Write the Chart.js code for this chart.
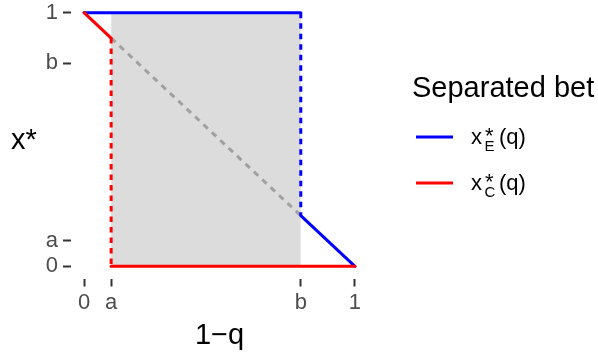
<!DOCTYPE html>
<html lang="en">
<head>
  <meta charset="UTF-8">
  <title>Separated bet</title>
  <script src="https://cdn.jsdelivr.net/npm/chart.js"></script>
  <style>
    html, body { margin:0; padding:0; background:#fff; }
    #wrap { position:relative; width:598px; height:356px; }
  </style>
</head>
<body>
<div id="wrap"><canvas id="chart" width="598" height="356"></canvas></div>
<script>
// ticks (a = 0.1, b = 0.8)
const tickValues = [0, 0.1, 0.8, 1];
const tickLabels = ['0', 'a', 'b', '1'];

// x*_E(q): flat at 1 up to b, drop at b, then down to 0 at 1
const xE_x = [0, 0.8, 0.8, 1];
const xE_y = [1, 1, 0.2, 0];
// x*_C(q): down to 1-a at a, drop at a, then flat at 0
const xC_x = [0, 0.1, 0.1, 1];
const xC_y = [1, 0.9, 0, 0];
// dotted diagonal between the two kinks
const diag_x = [0.1, 0.8];
const diag_y = [0.9, 0.2];
// shaded band between a and b
const band_x = [0.1, 0.8];
const band_y = [1, 1];

const FONT = "'Liberation Sans', Arial, sans-serif";
const pts = (xs, ys) => xs.map((x, i) => ({x: x, y: ys[i]}));

// one dataset per piece of a step line; the vertical jumps are dashed
function pieces(xs, ys, colour, order) {
  const out = [];
  for (let i = 0; i < xs.length - 1; i++) {
    const vertical = xs[i] === xs[i + 1];
    out.push({
      data: pts(xs.slice(i, i + 2), ys.slice(i, i + 2)),
      fill: false, borderColor: colour, borderWidth: 3, pointRadius: 0,
      borderCapStyle: vertical ? 'butt' : 'round',
      borderDash: vertical ? [5.5, 5] : [],
      order: order
    });
  }
  return out;
}

const extras = {
  id: 'extras',
  afterDraw(chart) {
    const c = chart.ctx;
    c.save();
    c.fillStyle = '#000';
    c.textAlign = 'left';
    c.textBaseline = 'alphabetic';
    // y title
    c.font = '29px ' + FONT;
    c.fillText('x*', 11, 149);
    // legend
    c.fillText('Separated bet', 412, 97);
    const items = [['#0000FF', 'E', 137], ['#FF0000', 'C', 183]];
    items.forEach(([col, sub, y]) => {
      c.strokeStyle = col;
      c.lineWidth = 3;
      c.beginPath();
      c.moveTo(416, y);
      c.lineTo(453, y);
      c.stroke();
      const base = y + 7;
      c.font = '22px ' + FONT;
      c.fillText('x', 471, base);
      c.fillText('*', 485, base - 1.5);
      c.fillText('(q)', 499, base);
      c.font = '15px ' + FONT;
      c.fillText(sub, 484.5, base + 6.5);
    });
    c.restore();
  }
};

const axisCommon = {
  type: 'linear',
  min: -0.05,
  max: 1.05,
  border: { display: false },
  grid: { display: true, drawOnChartArea: false, drawTicks: true, tickLength: 7.5, tickWidth: 2, tickColor: '#333333' },
  afterBuildTicks: s => { s.ticks = tickValues.map(v => ({value: v})); },
  ticks: { callback: (v, i) => tickLabels[i], color: '#4D4D4D', font: {family: FONT, size: 22}, autoSkip: false, maxRotation: 0 }
};

new Chart(document.getElementById('chart').getContext('2d'), {
  type: 'line',
  data: {
    datasets: [
      { data: pts(band_x, band_y), fill: 'origin', backgroundColor: '#DCDCDC', borderWidth: 0, pointRadius: 0, order: 4 },
      { data: pts(diag_x, diag_y), fill: false, borderColor: '#A0A0A0', borderWidth: 3, borderDash: [6, 5.5], pointRadius: 0, order: 3 }
    ].concat(pieces(xE_x, xE_y, '#0000FF', 2), pieces(xC_x, xC_y, '#FF0000', 1))
  },
  options: {
    responsive: false,
    animation: false,
    layout: { padding: { left: 0, right: 229.5, top: 0, bottom: 0 } },
    plugins: { legend: { display: false }, tooltip: { enabled: false } },
    scales: {
      x: Object.assign({}, axisCommon, {
        ticks: Object.assign({}, axisCommon.ticks, { padding: 3 }),
        title: { display: true, text: '1−q', color: '#000', font: {family: FONT, size: 29}, padding: {top: 0, bottom: 3} },
        afterFit: s => { s.height = 77; s.paddingLeft = 0; s.paddingRight = 0; }
      }),
      y: Object.assign({}, axisCommon, {
        ticks: Object.assign({}, axisCommon.ticks, { padding: 5 }),
        afterFit: s => { s.width = 70.5; s.paddingTop = 0; s.paddingBottom = 0; }
      })
    }
  },
  plugins: [extras]
});
</script>
</body>
</html>
